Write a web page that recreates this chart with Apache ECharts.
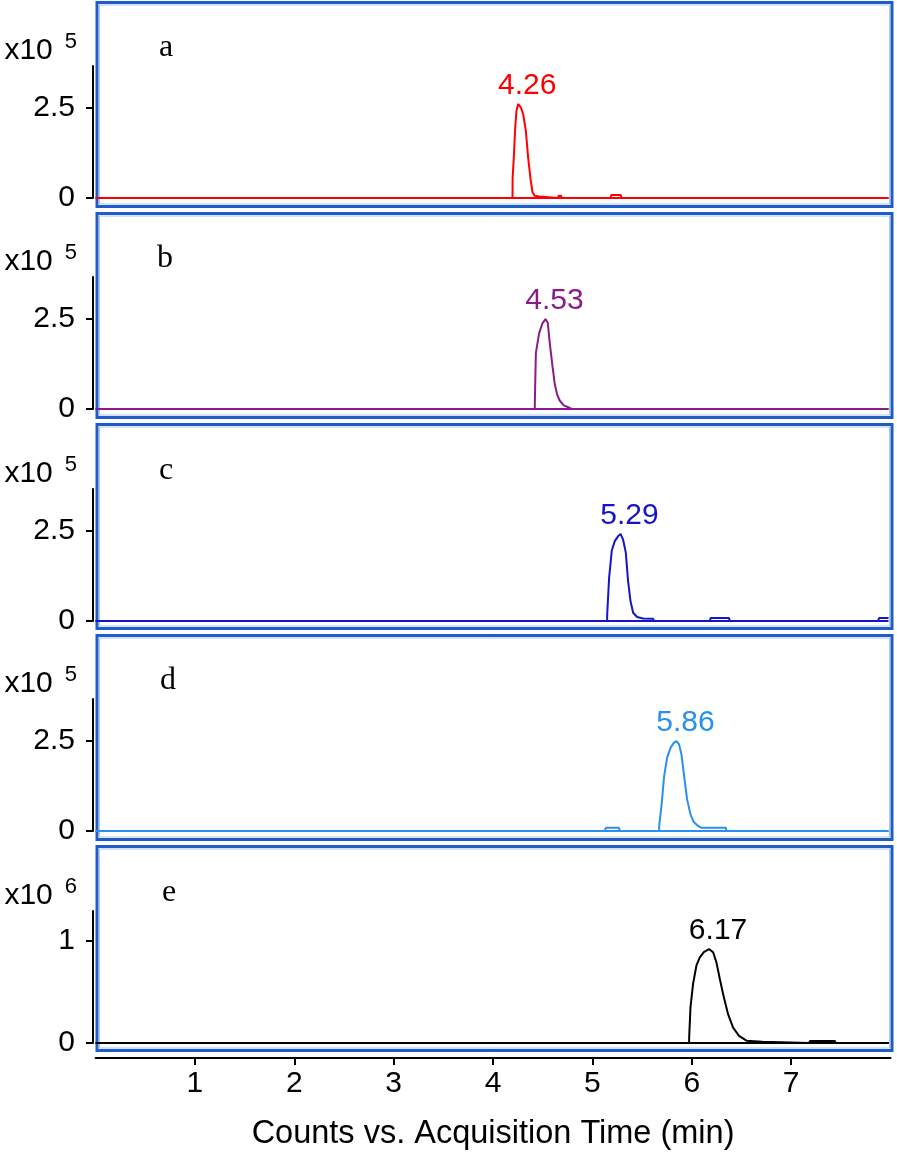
<!DOCTYPE html>
<html>
<head>
<meta charset="utf-8">
<style>
  html, body { margin: 0; padding: 0; background: #fff; }
  #main { width: 897px; height: 1154px; }
</style>
</head>
<body>
<div id="main"></div>
<script src="https://cdn.jsdelivr.net/npm/echarts@6/dist/echarts.min.js"></script>
<script>
// chromatograms: [time (min), counts in the panel's x10^n unit]
const traceA = [[0,0],[4.196,0],[4.197,0.56],[4.209,1.13],[4.223,1.96],[4.236,2.43],[4.253,2.61],[4.28,2.52],[4.303,2.33],[4.33,1.87],[4.353,1.13],[4.377,0.53],[4.397,0.16],[4.42,0.06],[4.464,0.04],[4.47,0],[4.655,0],[4.66,0.06],[4.685,0.06],[4.69,0],[5.18,0],[5.19,0.08],[5.235,0.08],[5.245,0.03],[5.255,0.08],[5.285,0.08],[5.295,0],[7.98,0]]
const traceB = [[0,0],[4.42,0],[4.421,0.26],[4.431,1.56],[4.464,2.11],[4.498,2.39],[4.528,2.5],[4.551,2.39],[4.571,1.83],[4.598,1.19],[4.622,0.68],[4.645,0.4],[4.672,0.23],[4.712,0.1],[4.756,0.05],[4.79,0],[7.98,0]]
const traceC = [[0,0],[5.148,0],[5.149,0.19],[5.168,1.2],[5.195,1.96],[5.225,2.22],[5.259,2.36],[5.283,2.42],[5.309,2.26],[5.336,1.9],[5.359,1.11],[5.383,0.56],[5.41,0.23],[5.45,0.11],[5.51,0.07],[5.611,0.06],[5.62,0],[6.181,0],[6.19,0.08],[6.375,0.08],[6.383,0],[7.874,0],[7.885,0.08],[7.98,0.08]]
const traceD = [[0,0],[5.125,0],[5.135,0.09],[5.266,0.09],[5.276,0],[5.671,0],[5.672,0.14],[5.695,0.69],[5.722,1.53],[5.752,2.04],[5.786,2.31],[5.819,2.45],[5.846,2.5],[5.872,2.41],[5.896,2.13],[5.923,1.53],[5.953,0.88],[5.987,0.46],[6.02,0.25],[6.063,0.14],[6.097,0.09],[6.342,0.09],[6.35,0],[7.98,0]]
const traceE = [[0,0],[5.973,0],[5.974,0.06],[5.987,0.35],[6.013,0.58],[6.047,0.76],[6.081,0.84],[6.121,0.89],[6.174,0.92],[6.215,0.89],[6.248,0.79],[6.282,0.63],[6.322,0.45],[6.366,0.28],[6.416,0.15],[6.476,0.07],[6.55,0.023],[6.711,0.013],[6.72,0],[7.18,0],[7.19,0.02],[7.44,0.02],[7.449,0],[7.985,0]]
const baseline = [[0,0],[7.98,0]]

const traces = [traceA, traceB, traceC, traceD, traceE]
const panelLetters = ['a','b','c','d','e']
const peakLabels = ['4.26','4.53','5.29','5.86','6.17']
const exponents = ['5','5','5','5','6']
const yTicks = [[0,2.5],[0,2.5],[0,2.5],[0,2.5],[0,1]]
const yMax = [3.67,3.67,3.67,3.67,1.294]
const xTicks = [1,2,3,4,5,6,7]
const traceColors = ['#ff0000','#8b1a8b','#1414c8','#2b8ff0','#000000']

const sans = "Arial, 'Liberation Sans', sans-serif"
const serif = "'Times New Roman', 'Liberation Serif', serif"

// layout of the five stacked panels
const zeroY = [198, 409, 621, 831, 1043]
const plotH = 132
const gridLeft = 95.6
const gridRight = 6.5
const boxTop = [2.5, 213.5, 424.5, 635.5, 846.5]
const boxH = 204
const letterX = [166, 165, 166, 168, 169]

const chart = echarts.init(document.getElementById('main'), null, {renderer: 'canvas'})

const grids = [], xAxes = [], yAxes = [], series = [], graphics = []

traces.forEach((data, i) => {
  const last = i === traces.length - 1
  grids.push({
    left: gridLeft, right: gridRight, top: zeroY[i] - plotH, height: plotH,
    outerBoundsMode: 'none', containLabel: false
  })
  xAxes.push({
    gridIndex: i, type: 'value', min: 0, max: 8,
    show: last,
    offset: 15,
    axisLine: {show: true, onZero: false, lineStyle: {color: '#000', width: 2}},
    axisTick: {show: true, customValues: xTicks, length: 7, lineStyle: {color: '#000', width: 2}},
    axisLabel: {customValues: xTicks, color: '#000', fontSize: 30, fontFamily: sans, margin: 11},
    splitLine: {show: false},
    name: last ? 'Counts vs. Acquisition Time (min)' : '',
    nameLocation: 'middle',
    nameGap: 60,
    nameTextStyle: {color: '#000', fontSize: 32.5, fontFamily: sans}
  })
  yAxes.push({
    gridIndex: i, type: 'value', min: 0, max: yMax[i],
    offset: 2.6,
    axisLine: {show: true, onZero: false, lineStyle: {color: '#000', width: 2}},
    axisTick: {show: true, customValues: yTicks[i], length: 7, lineStyle: {color: '#000', width: 2}},
    axisLabel: {customValues: yTicks[i], color: '#000', fontSize: 30, fontFamily: sans, margin: 18},
    splitLine: {show: false},
    name: '{m|x10}{s|' + exponents[i] + '}',
    nameLocation: 'end',
    nameGap: 0,
    nameTextStyle: {
      align: 'right',
      padding: [0, 16, 0, 0],
      rich: {
        m: {fontSize: 30, fontFamily: sans, color: '#000', padding: [5, 0, 0, 0], verticalAlign: 'bottom'},
        s: {fontSize: 22, fontFamily: sans, color: '#000', padding: [0, 0, 0, 12], verticalAlign: 'top'}
      }
    }
  })
  // integration baseline under the peak
  series.push({
    type: 'line', xAxisIndex: i, yAxisIndex: i, data: baseline,
    showSymbol: false, silent: true,
    lineStyle: {color: traceColors[i], width: 2}
  })
  series.push({
    type: 'line', xAxisIndex: i, yAxisIndex: i, data: data,
    showSymbol: false,
    lineStyle: {color: traceColors[i], width: 2},
    markPoint: {
      symbol: 'circle', symbolSize: 1,
      itemStyle: {color: 'rgba(0,0,0,0)'},
      label: {
        show: true, position: 'top', distance: 3, offset: [9, 0],
        color: traceColors[i], fontSize: 30, fontFamily: sans,
        formatter: () => peakLabels[i]
      },
      data: [{type: 'max'}]
    }
  })
  // blue panel frame
  graphics.push({
    type: 'rect', silent: true,
    shape: {x: 97, y: boxTop[i], width: 795, height: boxH},
    style: {fill: null, stroke: '#1f5cc8', lineWidth: 3}
  })
  graphics.push({
    type: 'rect', silent: true,
    shape: {x: 99.5, y: boxTop[i] + 2.5, width: 790, height: boxH - 5},
    style: {fill: null, stroke: '#a9c6f2', lineWidth: 1}
  })
  graphics.push({
    type: 'text', silent: true,
    x: letterX[i], y: zeroY[i] - 150,
    style: {text: panelLetters[i], fill: '#000', font: '32px ' + serif, align: 'center', verticalAlign: 'middle'}
  })
})

chart.setOption({
  animation: false,
  backgroundColor: '#fff',
  grid: grids,
  xAxis: xAxes,
  yAxis: yAxes,
  series: series,
  graphic: graphics
})
</script>
</body>
</html>
